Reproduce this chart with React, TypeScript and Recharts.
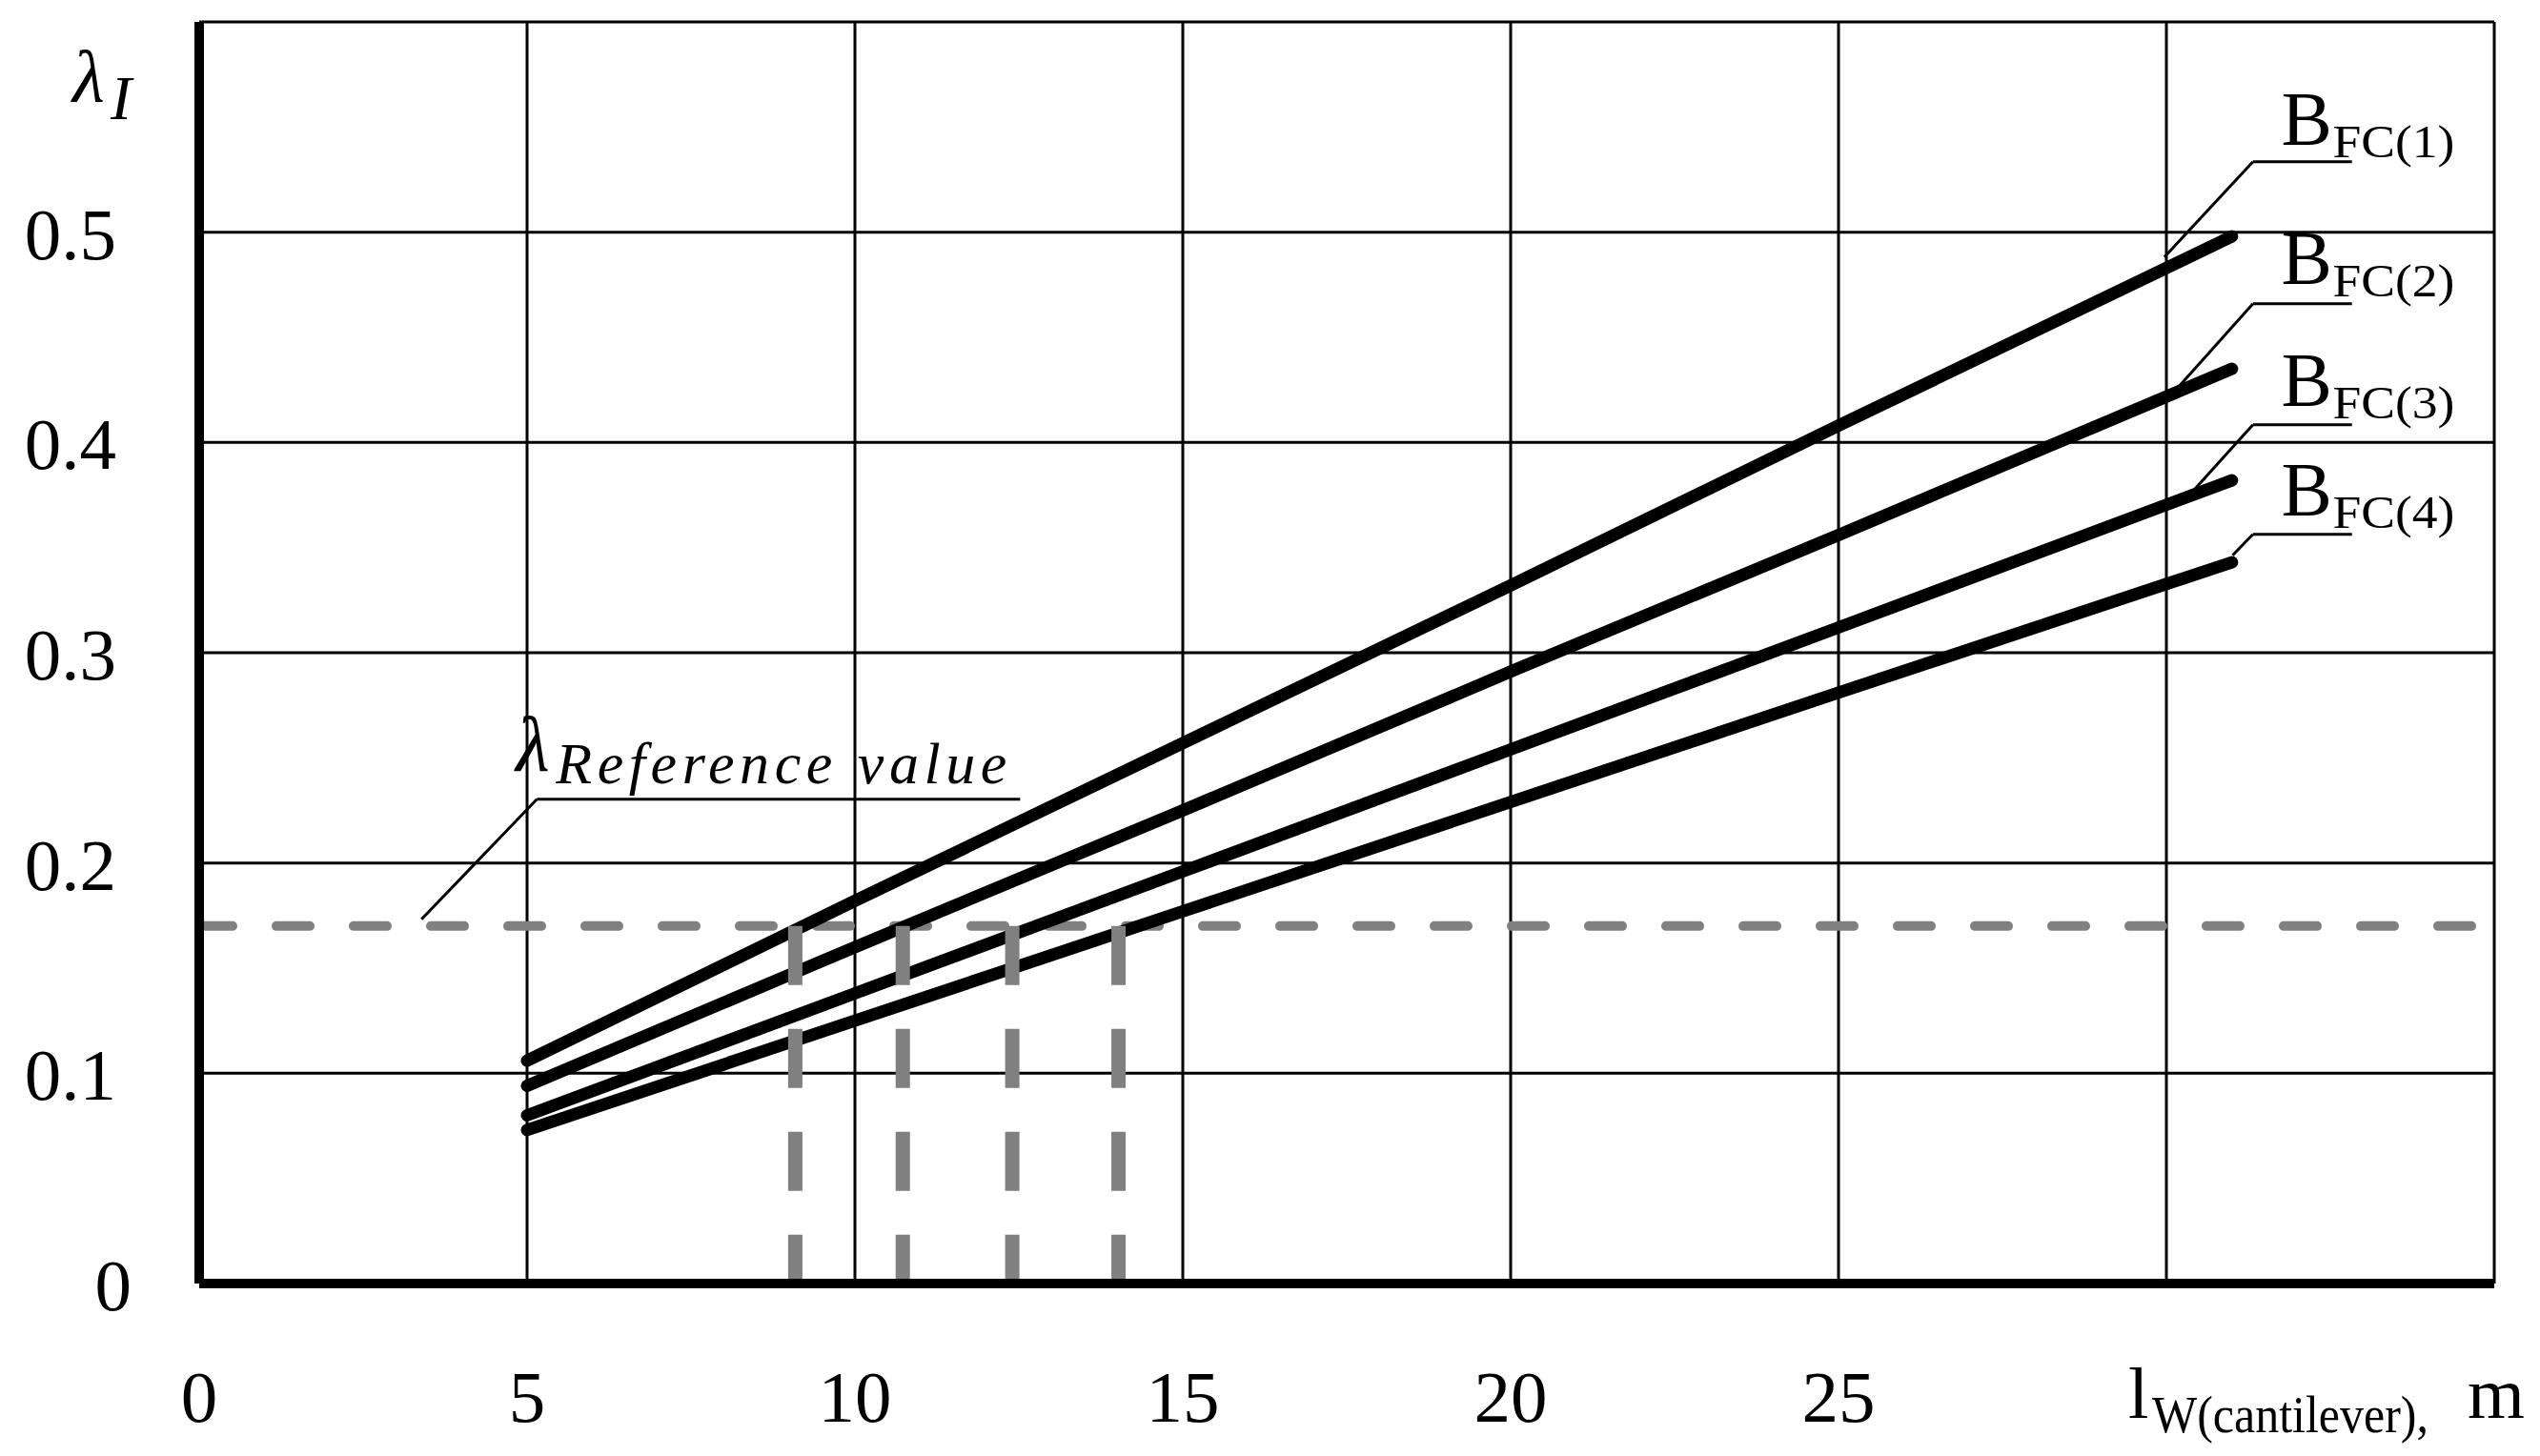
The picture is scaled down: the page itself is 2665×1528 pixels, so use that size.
import React from "react";
import {
  LineChart,
  Line,
  XAxis,
  YAxis,
  CartesianGrid,
  ReferenceLine,
  ReferenceDot,
} from "recharts";

// cantilever length, m
const lengths = [5, 10, 15, 20, 25, 31];
// lambda_I for each B_FC curve
const bfc1 = [0.106, 0.182, 0.257, 0.332, 0.408, 0.498];
const bfc2 = [0.094, 0.16, 0.225, 0.291, 0.356, 0.435];
const bfc3 = [0.08, 0.138, 0.196, 0.254, 0.312, 0.382];
const bfc4 = [0.073, 0.125, 0.177, 0.229, 0.281, 0.343];
const curveNames = ["FC(1)", "FC(2)", "FC(3)", "FC(4)"];

const xTicks = [0, 5, 10, 15, 20, 25, 30, 35];
const yTicks = [0, 0.1, 0.2, 0.3, 0.4, 0.5, 0.6];
const xTickLabels = ["0", "5", "10", "15", "20", "25"];
const yTickLabels = ["0", "0.1", "0.2", "0.3", "0.4", "0.5"];

const referenceValue = 0.17;
const crossings = [9.09, 10.73, 12.4, 14.02];

// where the curve labels and their leader lines sit (data units)
const curveLabelSpots = [
  { ty: 0.5417, lineY: 0.5335, endX: 29.97, endY: 0.4882 },
  { ty: 0.4755, lineY: 0.466, endX: 30.14, endY: 0.4248 },
  { ty: 0.4175, lineY: 0.4084, endX: 30.4, endY: 0.3767 },
  { ty: 0.3654, lineY: 0.3563, endX: 31.01, endY: 0.3463 },
];
const labelX = 31.75;
const underlineFrom = 31.32;
const underlineTo = 32.83;

const serif = "'Liberation Serif', 'Times New Roman', serif";
const gray = "#808080";

const toPoints = (ys: number[]) => lengths.map((x, i) => ({ x, y: ys[i] }));
const curves = [bfc1, bfc2, bfc3, bfc4].map(toPoints);

const XTick = (props: any) => {
  const { x, y, payload } = props;
  const idx = xTicks.indexOf(payload.value);
  const text = xTickLabels[idx];
  if (!text) return <g />;
  return (
    <text x={x} y={y + 145} textAnchor="middle" fontSize={77} fontFamily={serif} fill="#000">
      {text}
    </text>
  );
};

const YTick = (props: any) => {
  const { x, y, payload } = props;
  const idx = yTicks.indexOf(payload.value);
  const text = yTickLabels[idx];
  if (!text) return <g />;
  const right = payload.value === 0 ? x - 71 : x - 87;
  return (
    <text x={right} y={y + 28} textAnchor="end" fontSize={77} fontFamily={serif} fill="#000">
      {text}
    </text>
  );
};

const YTitle = (props: any) => {
  const vb = props.viewBox || { x: 0, y: 23 };
  return (
    <g>
      <text x={vb.x + 76} y={vb.y + 84} fontSize={78} fontStyle="italic" fontFamily={serif} fill="#000">
        λ
      </text>
      <text x={vb.x + 116} y={vb.y + 102} fontSize={66} fontStyle="italic" fontFamily={serif} fill="#000">
        I
      </text>
    </g>
  );
};

const XTitle = (props: any) => {
  const vb = props.viewBox || { x: 209, y: 1347 };
  return (
    <g fontFamily={serif} fill="#000">
      <text x={vb.x + 2024} y={vb.y + 141} fontSize={77}>
        l
      </text>
      <text
        x={vb.x + 2049}
        y={vb.y + 156}
        fontSize={54}
        textLength={290}
        lengthAdjust="spacingAndGlyphs"
      >
        W(cantilever),
      </text>
      <text x={vb.x + 2380} y={vb.y + 141} fontSize={77}>
        m
      </text>
    </g>
  );
};

const curveLabel = (name: string) => (props: any) => {
  const { cx, cy } = props;
  return (
    <g fontFamily={serif} fill="#000">
      <text x={cx} y={cy} fontSize={80}>
        B
      </text>
      <text
        x={cx + 54}
        y={cy + 13}
        fontSize={48}
        textLength={128}
        lengthAdjust="spacingAndGlyphs"
      >
        {name}
      </text>
    </g>
  );
};

const refLabel = (props: any) => {
  const { cx, cy } = props;
  return (
    <g fontFamily={serif} fill="#000" fontStyle="italic">
      <text x={cx} y={cy + 4} fontSize={82}>
        λ
      </text>
      <text x={cx + 42} y={cy + 17} fontSize={62} textLength={473} lengthAdjust="spacing">
        Reference value
      </text>
    </g>
  );
};

export default function App() {
  return (
    <div style={{ position: "absolute", left: 0, top: 0, background: "#fff" }}>
      <LineChart width={2665} height={1528} margin={{ top: 23, right: 48, left: 0, bottom: 0 }}>
        <CartesianGrid stroke="#000" strokeWidth={3} />
        <XAxis
          type="number"
          dataKey="x"
          domain={[0, 35]}
          ticks={xTicks}
          allowDataOverflow
          height={181}
          tickSize={0}
          tickMargin={0}
          tickLine={false}
          axisLine={{ stroke: "#000", strokeWidth: 10 }}
          tick={<XTick />}
          interval={0}
          label={{ content: <XTitle /> }}
        />
        <YAxis
          type="number"
          dataKey="y"
          domain={[0, 0.6]}
          ticks={yTicks}
          allowDataOverflow
          width={209}
          tickSize={0}
          tickMargin={0}
          tickLine={false}
          axisLine={{ stroke: "#000", strokeWidth: 10 }}
          tick={<YTick />}
          interval={0}
          label={{ content: <YTitle /> }}
        />
        <ReferenceLine
          y={referenceValue}
          stroke={gray}
          strokeWidth={10}
          strokeDasharray="35 46"
          strokeLinecap="round"
        />
        {curves.map((pts, i) => (
          <Line
            key={curveNames[i]}
            data={pts}
            dataKey="y"
            type="linear"
            stroke="#000"
            strokeWidth={13}
            strokeLinecap="round"
            dot={false}
            activeDot={false}
            isAnimationActive={false}
          />
        ))}
        {crossings.map((c) => (
          <ReferenceLine
            key={"v" + c}
            segment={[
              { x: c, y: referenceValue },
              { x: c, y: 0 },
            ]}
            stroke={gray}
            strokeWidth={15}
            strokeDasharray="62 46"
          />
        ))}
        {curveLabelSpots.map((s, i) => (
          <ReferenceLine
            key={"u" + i}
            segment={[
              { x: underlineFrom, y: s.lineY },
              { x: underlineTo, y: s.lineY },
            ]}
            stroke="#000"
            strokeWidth={3}
          />
        ))}
        {curveLabelSpots.map((s, i) => (
          <ReferenceLine
            key={"d" + i}
            segment={[
              { x: underlineFrom, y: s.lineY },
              { x: s.endX, y: s.endY },
            ]}
            stroke="#000"
            strokeWidth={3}
          />
        ))}
        {curveLabelSpots.map((s, i) => (
          <ReferenceDot
            key={"l" + i}
            x={labelX}
            y={s.ty}
            r={1}
            ifOverflow="visible"
            shape={curveLabel(curveNames[i])}
          />
        ))}
        <ReferenceLine
          segment={[
            { x: 5.15, y: 0.2303 },
            { x: 12.52, y: 0.2303 },
          ]}
          stroke="#000"
          strokeWidth={3}
        />
        <ReferenceLine
          segment={[
            { x: 5.15, y: 0.2303 },
            { x: 3.39, y: 0.1732 },
          ]}
          stroke="#000"
          strokeWidth={3}
        />
        <ReferenceDot x={4.83} y={0.2457} r={1} ifOverflow="visible" shape={refLabel} />
      </LineChart>
    </div>
  );
}
